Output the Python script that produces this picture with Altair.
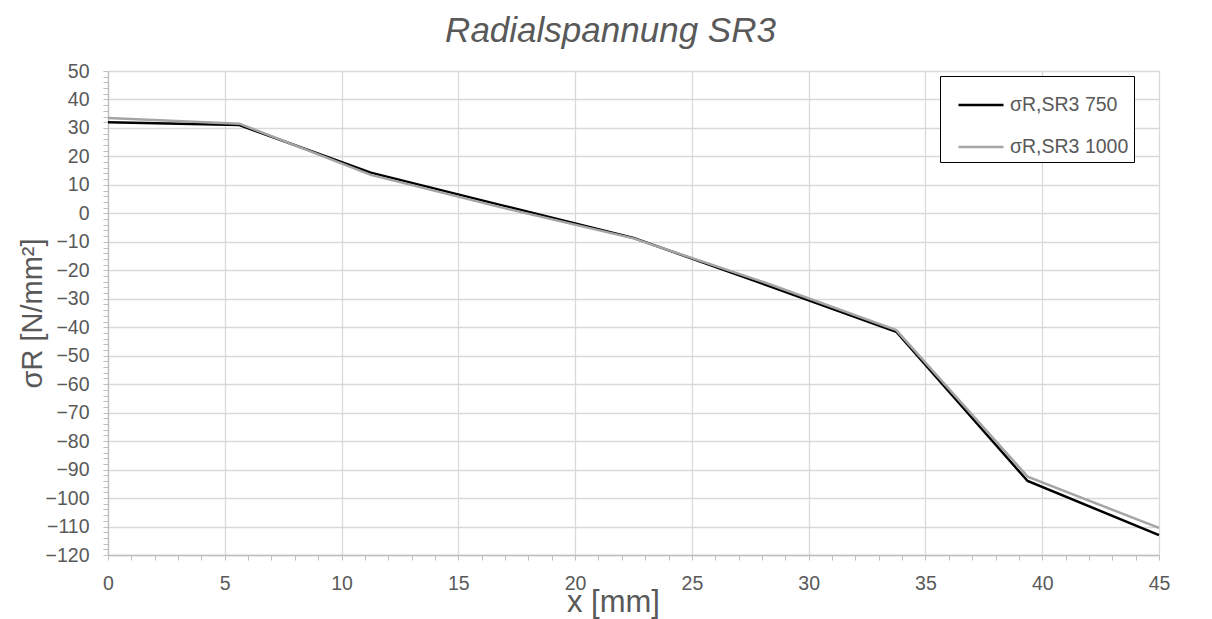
import altair as alt
import pandas as pd

x_mm = [0, 5.625, 11.25, 16.875, 22.5, 28.125, 33.75, 39.375, 45]
s750 = [32.0, 31.0, 14.3, 2.8, -8.6, -25.0, -41.6, -94.0, -113.0]
s1000 = [33.5, 31.5, 13.5, 2.0, -8.8, -24.3, -41.0, -92.5, -110.5]
series_names = ["σR,SR3 750", "σR,SR3 1000"]
series_colors = ["#000000", "#a5a5a5"]

rows = []
for name, vals in zip(series_names, [s750, s1000]):
    for xv, yv in zip(x_mm, vals):
        rows.append({"x": xv, "y": yv, "series": name})
df = pd.DataFrame(rows)

font = "Liberation Sans"
txt = "#595959"

y_vals = list(range(-120, 51, 2))
x_vals = list(range(0, 46, 1))

chart = alt.Chart(df).mark_line(strokeWidth=2.5).encode(
    x=alt.X("x:Q",
            scale=alt.Scale(domain=[0, 45], nice=False, zero=False),
            axis=alt.Axis(values=x_vals,
                          labelExpr="datum.value % 5 === 0 ? datum.label : ''",
                          labelOverlap=False, labelFlush=False,
                          gridOpacity={"condition": {"test": "datum.value % 5 === 0", "value": 1}, "value": 0},
                          title="x [mm]", titleFontSize=31, titleFont=font,
                          titleFontWeight="normal", titleColor=txt,
                          titleX=505, titleY=56, titleAlign="center",
                          titleBaseline="alphabetic")),
    y=alt.Y("y:Q",
            scale=alt.Scale(domain=[-120, 50], nice=False, zero=False),
            axis=alt.Axis(values=y_vals,
                          labelExpr="datum.value % 10 === 0 ? datum.label : ''",
                          labelOverlap=False, labelFlush=False,
                          gridOpacity={"condition": {"test": "datum.value % 10 === 0", "value": 1}, "value": 0},
                          title="σR [N/mm²]", titleFontSize=29, titleFont=font,
                          titleFontWeight="normal", titleColor=txt,
                          titleX=-76, titleY=242, titleAngle=270,
                          titleAlign="center", titleBaseline="middle")),
    color=alt.Color("series:N",
                    scale=alt.Scale(domain=series_names, range=series_colors),
                    sort=series_names,
                    legend=alt.Legend(title=None, orient="none",
                                      legendX=832, legendY=5,
                                      symbolType="stroke", symbolSize=2025,
                                      symbolStrokeWidth=2.5, symbolOffset=12,
                                      labelFontSize=19.5, labelFont=font,
                                      labelColor=txt, labelOffset=5,
                                      rowPadding=8, padding=5,
                                      strokeColor="#000000", fillColor="#ffffff")),
    order=alt.Order("series_order:Q"),
).transform_calculate(
    series_order="datum.series === 'σR,SR3 750' ? 0 : 1"
).properties(
    width=1051, height=484,
    autosize=alt.AutoSizeParams(type="none"),
    padding={"left": 100, "top": 63, "right": 45, "bottom": 64},
    background="#ffffff",
    title=alt.Title("Radialspannung SR3", fontSize=35, fontStyle="italic",
                    fontWeight="normal", font=font, color=txt,
                    anchor="middle", dx=-23, offset=12),
).configure_view(stroke=None).configure_axis(
    gridColor="#d9d9d9", gridWidth=1.3,
    domainColor="#bfbfbf", domainWidth=1.3,
    tickColor="#bfbfbf", tickSize=5, tickWidth=1,
    labelFontSize=19.5, labelFont=font, labelColor=txt, labelPadding=14,
)

chart.save("out.html", embed_options={"renderer": "svg", "actions": False})
